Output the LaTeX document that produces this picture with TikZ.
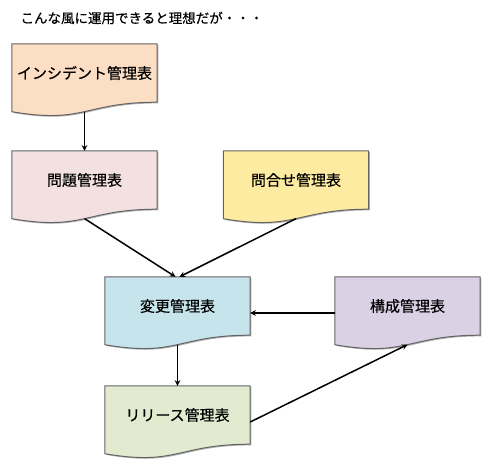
\documentclass[tikz,border=0pt]{standalone}
\usepackage{fontspec}
\setmainfont{Noto Sans CJK JP}[FakeBold=0.4]
\usepackage{tikz}
\usetikzlibrary{arrows, calc, backgrounds, shadows}
\definecolor{naranjita}{RGB}{252,222,196}
\definecolor{rosita}{RGB}{242,225,224}
\definecolor{amarillito}{RGB}{254,235,162}
\definecolor{celestito}{RGB}{198,228,236}
\definecolor{lilita}{RGB}{218,209,228}
\definecolor{verdecito}{RGB}{226,234,207}
\definecolor{grisito}{RGB}{100,100,100}
\tikzset{>=stealth}
\tikzset{
  doctext/.style={minimum width=145pt, minimum height=58pt, inner sep=0pt,
    font=\fontsize{15}{18}\selectfont},
  docline/.style={draw=grisito, line width=1pt,
    drop shadow={shadow xshift=1.2pt, shadow yshift=-1.2pt, opacity=0.3, fill=black}},
  flecha/.style={->, line width=1.5pt}
}
% document shape behind a node, plus the middle point of its wavy bottom
\newcommand{\docshape}[2]{%
  \draw[docline, fill=#2] (#1.north west) -- (#1.north east) -- (#1.south east)
    .. controls (#1.south) and ($(#1.south)+(0,22)$) .. ($(#1.south west)+(0,9.5)$) -- cycle;
  \coordinate (#1 wave) at ($(#1.south)+(0,9.4)$);
}

\begin{document}
\begin{tikzpicture}[x=1pt, y=-1pt]
  \useasboundingbox (0,0) rectangle (494,467);
  \node[anchor=west, font=\fontsize{13.5}{16}\selectfont] (title) at (17,18) {こんな風に運用できると理想だが・・・};
  % tables
  \node[doctext] (incident) at (84.5,73)  {インシデント管理表};
  \node[doctext] (problem)  at (84.5,180) {問題管理表};
  \node[doctext] (inquiry)  at (296,180)  {問合せ管理表};
  \node[doctext] (change)   at (177.5,306) {変更管理表};
  \node[doctext] (config)   at (407.5,306) {構成管理表};
  \node[doctext] (release)  at (177.5,415) {リリース管理表};
  \begin{scope}[on background layer]
    \docshape{incident}{naranjita}
    \docshape{problem}{rosita}
    \docshape{inquiry}{amarillito}
    \docshape{change}{celestito}
    \docshape{config}{lilita}
    \docshape{release}{verdecito}
  \end{scope}
  % flow
  \draw[flecha] (incident wave) -- (problem.north);
  \draw[flecha] (problem wave) -- ([xshift=-2pt]change.north);
  \draw[flecha] (inquiry wave) -- ([xshift=2pt]change.north);
  \draw[flecha] ([yshift=-7pt]config.west) -- ([yshift=-7pt]change.east);
  \draw[flecha] (change wave) -- (release.north);
  \draw[flecha] ([yshift=-7pt]release.east) -- (config wave);
\end{tikzpicture}
\end{document}
